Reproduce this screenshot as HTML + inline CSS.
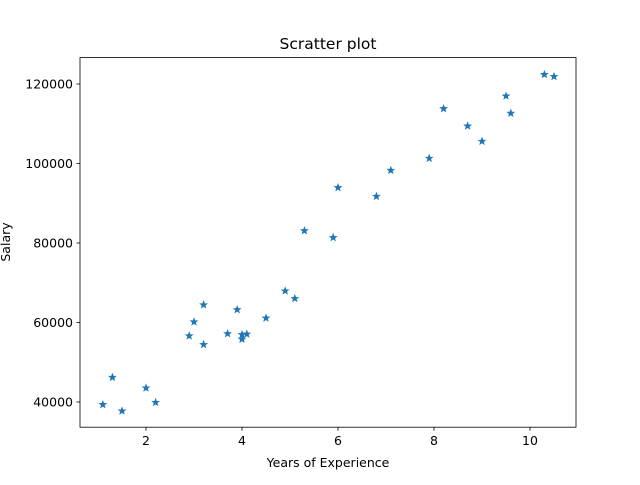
<!DOCTYPE html>
<html>
<head>
<meta charset="utf-8">
<style>
  html,body{margin:0;padding:0;background:#fff;}
  svg text{font-family:"DejaVu Sans","Liberation Sans",sans-serif;fill:#000;}
</style>
</head>
<body>
<svg id="chart" width="640" height="480" viewBox="0 0 640 480">
  <rect x="0" y="0" width="640" height="480" fill="#fff"/>
  <text x="328" y="49" font-size="15.5" text-anchor="middle">Scratter plot</text>
  <g id="ticks"></g>
  <g id="points"></g>
  <rect x="80" y="57.6" width="496" height="369.6" fill="none" stroke="#000" stroke-width="0.8"/>
  <text x="328" y="467" font-size="12.5" text-anchor="middle">Years of Experience</text>
  <text x="10" y="242" font-size="12.5" text-anchor="middle" transform="rotate(-90 10 242)">Salary</text>
</svg>
<script>
const experience = [1.1,1.3,1.5,2.0,2.2,2.9,3.0,3.2,3.2,3.7,3.9,4.0,4.0,4.1,4.5,4.9,5.1,5.3,5.9,6.0,6.8,7.1,7.9,8.2,8.7,9.0,9.5,9.6,10.3,10.5];
const salary = [39343,46205,37731,43525,39891,56642,60150,54445,64445,57189,63218,55794,56957,57081,61111,67938,66029,83088,81363,93940,91738,98273,101302,113812,109431,105582,116969,112635,122391,121872];
const xTicks = [2,4,6,8,10];
const yTicks = [40000,60000,80000,100000,120000];

const NS = "http://www.w3.org/2000/svg";
function xs(v){ return 50 + v*48; }
function ys(v){ return 402 - (v-40000)*(318/80000); }

const tg = document.getElementById('ticks');
xTicks.forEach(t=>{
  const l=document.createElementNS(NS,'line');
  l.setAttribute('x1',xs(t));l.setAttribute('x2',xs(t));l.setAttribute('y1',427.2);l.setAttribute('y2',430.7);
  l.setAttribute('stroke','#000');l.setAttribute('stroke-width','0.8');
  
  
  tg.appendChild(l);
  const tx=document.createElementNS(NS,'text');
  tx.setAttribute('x',xs(t));tx.setAttribute('y',445);tx.setAttribute('font-size','12.5');tx.setAttribute('text-anchor','middle');
  tx.textContent=t;
  
  
  tg.appendChild(tx);
});
yTicks.forEach(t=>{
  const l=document.createElementNS(NS,'line');
  l.setAttribute('x1',76.5);l.setAttribute('x2',80);l.setAttribute('y1',ys(t));l.setAttribute('y2',ys(t));
  l.setAttribute('stroke','#000');l.setAttribute('stroke-width','0.8');
  
  
  tg.appendChild(l);
  const tx=document.createElementNS(NS,'text');
  tx.setAttribute('x',73);tx.setAttribute('y',ys(t)+4.5);tx.setAttribute('font-size','12.5');tx.setAttribute('text-anchor','end');
  tx.textContent=t;
  
  
  tg.appendChild(tx);
});

function starPts(cx,cy,R,r){
  const p=[];
  for(let i=0;i<10;i++){
    const a=-Math.PI/2+i*Math.PI/5;
    const rad=i%2===0?R:r;
    p.push((cx+rad*Math.cos(a)).toFixed(2)+','+(cy+rad*Math.sin(a)).toFixed(2));
  }
  return p.join(' ');
}
const pg=document.getElementById('points');
experience.forEach((e,i)=>{
  const s=document.createElementNS(NS,'polygon');
  s.setAttribute('points',starPts(xs(e),ys(salary[i]),3.8,1.6));
  s.setAttribute('fill','#1f77b4');s.setAttribute('stroke','#1f77b4');s.setAttribute('stroke-width','0.6');
  
  
  pg.appendChild(s);
});
</script>
</body>
</html>
